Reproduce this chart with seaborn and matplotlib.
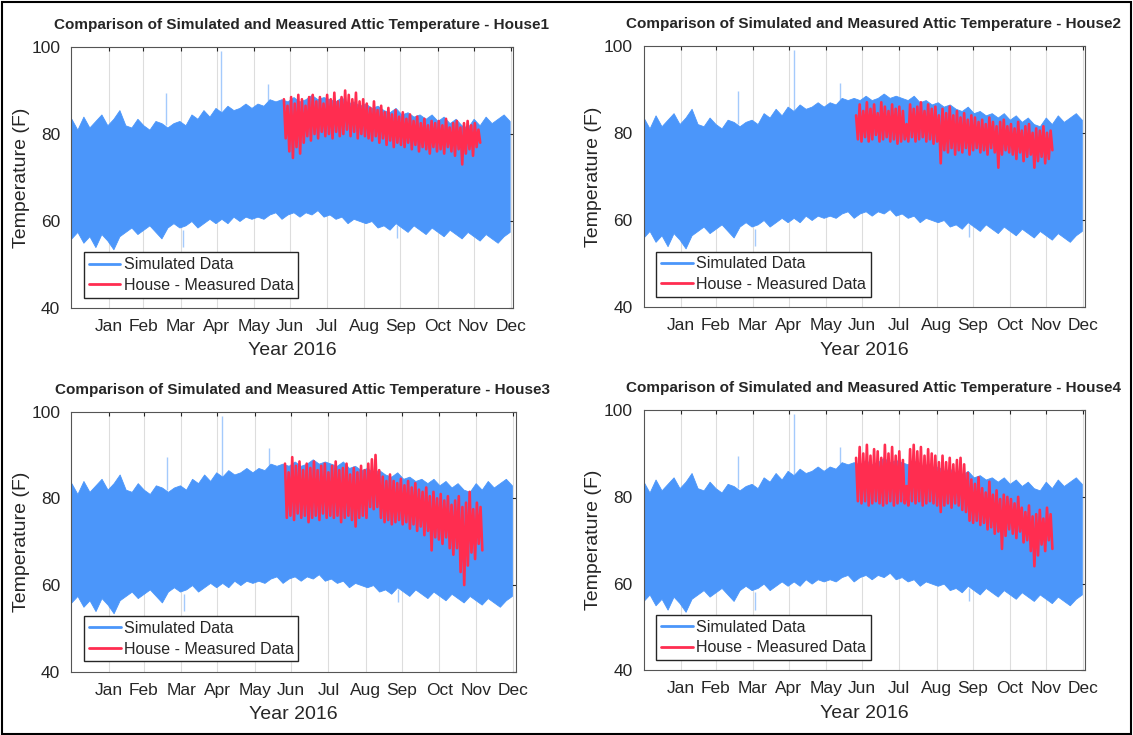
import numpy as np
import pandas as pd
import seaborn as sns
import matplotlib.pyplot as plt
from matplotlib.lines import Line2D
from matplotlib.patches import Rectangle

# simulated attic temperature envelope, sampled every 5 days (day of year)
sim_days = list(range(0, 366, 5))
sim_hi = [83.5, 81.0, 84.0, 81.5, 83.0, 84.5, 82.0,
          83.5, 85.5, 82.0, 81.5, 83.5, 82.0,
          81.0, 83.0, 82.5, 81.5, 82.5, 83.0,
          82.0, 84.5, 83.5, 85.5, 84.0, 86.0,
          85.0, 86.5, 85.5, 86.0, 87.0, 86.0,
          87.0, 86.5, 88.0, 87.5, 88.0, 87.5,
          88.5, 87.5, 88.0, 89.0, 88.0, 88.5,
          88.0, 87.5, 88.5, 87.0, 87.5, 86.5,
          87.0, 86.0, 86.5, 85.5, 85.0, 86.0,
          84.5, 85.0, 84.0, 84.5, 83.5, 84.5,
          83.0, 84.0, 82.5, 83.5, 82.0, 81.5,
          83.5, 82.0, 84.0, 82.5, 83.5, 84.5, 83.0]
sim_lo = [56.0, 57.5, 55.0, 56.5, 54.0, 57.0, 55.5,
          53.5, 56.5, 57.5, 58.5, 57.0, 58.0,
          59.0, 57.5, 56.0, 58.5, 59.5, 58.5,
          59.0, 60.0, 58.5, 59.5, 60.5, 59.5,
          60.5, 59.5, 61.0, 60.0, 61.0, 60.5,
          61.0, 60.5, 61.5, 62.0, 60.5, 61.5,
          62.0, 61.0, 62.0, 61.5, 62.5, 61.0,
          61.5, 60.5, 61.0, 59.5, 60.5, 60.0,
          59.5, 60.0, 58.5, 59.0, 58.0, 59.5,
          58.5, 57.5, 59.0, 58.0, 57.0, 58.5,
          57.5, 56.5, 58.0, 57.0, 56.0, 57.5,
          56.5, 55.5, 57.0, 56.0, 55.0, 56.5, 57.5]

# isolated spikes in the simulated series
spike_days = [79, 125, 164, 93, 271]
spike_base = [82.0, 85.0, 87.5, 58.0, 59.0]
spike_peak = [89.5, 99.0, 91.5, 54.0, 56.0]

# measured data, sampled every 3 days from day 177
meas_days = list(range(177, 340, 3))
house1_hi = [88.0, 86.5, 88.5, 87.0, 89.0, 88.0, 86.5, 88.5, 89.0, 87.5, 88.5, 87.0, 89.0,
             88.0, 89.5, 87.5, 88.5, 90.0, 89.0, 88.0, 89.5, 87.5, 88.0,
             87.0, 86.0, 87.5, 85.5, 86.5, 85.0, 86.0, 84.5, 85.5, 84.0,
             85.0, 83.5, 84.5, 83.0, 84.0, 82.5, 83.5, 82.0, 83.0, 82.5,
             83.0, 82.0, 83.5, 81.5, 82.5, 83.0, 81.5, 82.5, 83.0, 82.0, 82.5, 81.0]
house1_lo = [79.0, 76.0, 74.5, 77.0, 75.5, 78.0, 79.5, 78.5, 80.0, 79.0, 80.5, 79.5, 80.0,
             79.0, 80.5, 79.5, 80.0, 81.0, 79.5, 80.5, 79.0, 80.0, 79.5,
             79.0, 78.5, 79.5, 78.0, 79.0, 77.5, 78.5, 77.0, 78.0, 77.5,
             77.0, 78.0, 76.5, 77.5, 76.0, 77.0, 76.5, 75.5, 77.0, 76.0,
             76.5, 75.5, 77.0, 76.0, 75.0, 76.5, 73.0, 75.5, 76.5, 75.0, 77.0, 78.0]
house2_hi = [84.0, 86.5, 85.0, 87.0, 85.5, 86.5, 84.5, 87.0, 86.0, 85.0, 86.5, 85.5, 86.0,
             85.0, 82.0, 86.5, 85.5, 86.0, 87.0, 85.0, 86.5, 85.5, 86.0,
             84.0, 85.5, 84.5, 86.0, 84.0, 85.0, 83.5, 84.5, 83.0, 84.0,
             83.5, 82.5, 83.0, 82.0, 83.5, 82.5, 81.5, 82.5, 83.0, 81.5,
             82.0, 81.0, 82.5, 80.5, 81.5, 82.0, 80.0, 81.0, 80.5, 81.5, 80.0, 80.5]
house2_lo = [78.5, 78.0, 79.0, 78.0, 78.5, 79.5, 78.0, 78.5, 79.0, 78.0, 78.5, 77.5, 78.0,
             78.5, 78.0, 79.0, 78.0, 78.5, 79.0, 78.0, 78.5, 77.5, 78.0,
             73.0, 76.0, 75.5, 76.5, 75.0, 76.0, 75.5, 76.5, 75.0, 76.0,
             76.5, 75.5, 76.0, 75.0, 76.5, 75.5, 72.0, 75.0, 76.0, 75.5,
             75.0, 74.0, 75.5, 73.5, 74.5, 75.0, 72.0, 73.5, 74.5, 73.0, 74.0, 76.0]
house3_hi = [88.0, 86.0, 89.5, 87.5, 88.5, 86.5, 88.0, 87.0, 88.5, 86.5, 87.5, 88.0, 86.0,
             87.5, 88.5, 86.5, 87.0, 88.0, 85.5, 87.0, 86.0, 87.5, 86.5,
             88.0, 89.0, 90.0, 86.5, 85.0, 84.0, 85.5, 84.0, 83.5, 84.5,
             83.0, 84.0, 82.5, 83.5, 82.0, 81.5, 82.5, 80.5, 81.5, 80.0,
             81.0, 79.5, 80.5, 78.5, 79.5, 80.5, 78.0, 79.0, 81.5, 77.5, 79.0, 78.0]
house3_lo = [75.5, 76.0, 75.0, 76.5, 75.5, 76.0, 74.5, 75.5, 76.0, 75.0, 76.5, 75.5, 76.0,
             75.5, 76.0, 74.5, 75.5, 76.0, 75.0, 73.5, 75.5, 76.0, 75.5,
             78.0, 77.5, 78.0, 75.5, 74.5, 75.0, 74.0, 74.5, 75.0, 74.0,
             74.5, 73.0, 74.0, 72.5, 73.5, 71.5, 72.5, 68.0, 71.0, 70.5,
             69.5, 71.0, 68.5, 67.0, 68.5, 63.0, 60.0, 64.5, 67.5, 66.0, 69.5, 68.0]
house4_hi = [89.0, 91.5, 90.0, 92.0, 89.5, 91.0, 90.5, 89.0, 92.0, 90.0, 91.5, 89.5, 90.5,
             88.5, 82.5, 91.0, 92.0, 90.5, 91.5, 89.5, 91.0, 90.0, 89.5,
             88.0, 89.5, 88.0, 89.0, 87.5, 88.5, 89.0, 87.5, 85.5, 84.0,
             83.0, 84.5, 82.0, 81.0, 83.5, 80.5, 81.5, 79.5, 80.5, 80.0,
             79.5, 78.5, 80.0, 77.5, 76.5, 78.0, 75.5, 76.0, 77.0, 75.0, 77.5, 76.0]
house4_lo = [79.0, 78.5, 79.0, 78.0, 78.5, 79.0, 78.5, 78.0, 78.5, 79.0, 78.0, 78.5, 79.0,
             78.5, 78.0, 79.0, 78.5, 79.0, 78.0, 78.5, 79.0, 78.5, 78.0,
             76.5, 78.0, 78.5, 77.5, 78.5, 78.0, 77.0, 76.5, 74.5, 74.0,
             74.5, 73.5, 74.0, 72.5, 73.0, 71.5, 72.0, 68.0, 71.0, 72.5,
             71.5, 70.5, 72.0, 69.5, 70.0, 67.5, 64.0, 66.5, 69.0, 67.5, 70.0, 68.0]

houses = ['House1', 'House2', 'House3', 'House4']
meas_hi = [house1_hi, house2_hi, house3_hi, house4_hi]
meas_lo = [house1_lo, house2_lo, house3_lo, house4_lo]

month_ticks = [31, 60, 91, 121, 152, 182, 213, 244, 274, 305, 335, 366]
month_labels = ['Jan', 'Feb', 'Mar', 'Apr', 'May', 'Jun',
                'Jul', 'Aug', 'Sep', 'Oct', 'Nov', 'Dec']

blue = '#4B96FA'
red = '#FF2D50'
dark = '#262626'

sns.set_style('white')
plt.rcParams['font.family'] = ['Liberation Sans', 'DejaVu Sans']

fig = plt.figure(figsize=(11.33, 7.35), dpi=100)
rects = [[0.063, 0.581, 0.39, 0.355], [0.568, 0.582, 0.39, 0.356],
         [0.063, 0.086, 0.392, 0.354], [0.568, 0.088, 0.39, 0.354]]

for k, house in enumerate(houses):
    ax = fig.add_axes(rects[k])
    ax.fill_between(sim_days, sim_lo, sim_hi, color=blue, lw=0.6, zorder=2)
    ax.vlines(spike_days, spike_base, spike_peak, color=blue, lw=1, alpha=0.5, zorder=2)

    # measured series drawn as a daily swing between the lows and highs
    d = np.array(meas_days, dtype=float)
    zig = pd.DataFrame({
        'day': np.column_stack([d, d + 1.5]).ravel(),
        'temp': np.column_stack([meas_hi[k], meas_lo[k]]).ravel(),
    })
    sns.lineplot(data=zig, x='day', y='temp', sort=False, estimator=None,
                 color=red, lw=1.9, ax=ax, zorder=3)

    ax.set_xlim(0, 368)
    ax.set_ylim(40, 100)
    ax.set_yticks([40, 60, 80, 100])
    ax.set_xticks(month_ticks)
    ax.set_xticklabels(month_labels)
    ax.grid(axis='x', color='#DDDDDD', lw=0.8)
    ax.set_axisbelow(True)
    ax.tick_params(direction='in', length=3, labelsize=12.5, colors=dark,
                   top=True, right=True, pad=8)
    for s in ax.spines.values():
        s.set_color('#555555')
        s.set_linewidth(0.8)
    ax.set_xlabel('Year 2016', fontsize=14, color=dark, labelpad=6)
    ax.set_ylabel('Temperature (F)', fontsize=14, color=dark, labelpad=1)
    ax.set_title('Comparison of Simulated and Measured Attic Temperature - ' + house,
                 fontsize=11, fontweight='bold', pad=13, x=0.52)

    handles = [Line2D([], [], color=blue, lw=2), Line2D([], [], color=red, lw=2)]
    ax.legend(handles, ['Simulated Data', 'House - Measured Data'],
              loc='lower left', bbox_to_anchor=(0.028, 0.04), borderaxespad=0,
              fontsize=11.5, frameon=True, fancybox=False, framealpha=1,
              edgecolor=dark, handlelength=2.0, handletextpad=0.2,
              borderpad=0.3, labelspacing=0.35)

fig.patches.append(Rectangle((0.002, 0.002), 0.996, 0.995, transform=fig.transFigure,
                             fill=False, edgecolor='black', lw=1.5))

fig.savefig('out.png', dpi=100)
